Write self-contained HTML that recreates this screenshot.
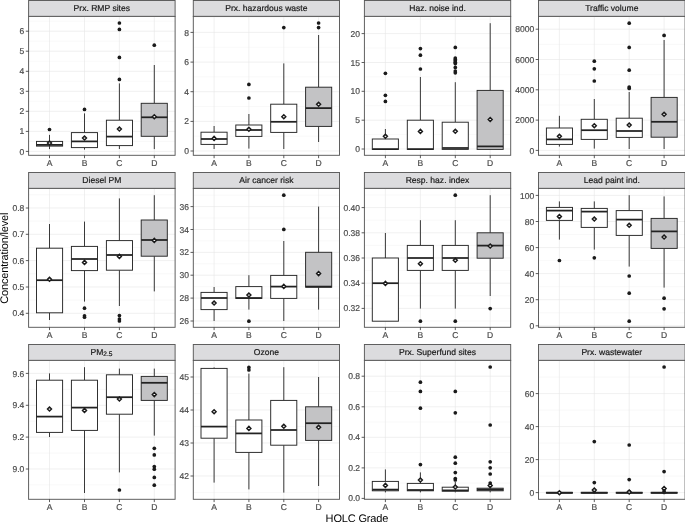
<!DOCTYPE html>
<html><head><meta charset="utf-8"><title>HOLC Grade boxplots</title>
<style>html,body{margin:0;padding:0;background:#fff}body{width:685px;height:522px;overflow:hidden}svg{display:block;text-rendering:geometricPrecision;will-change:transform;font-family:"Liberation Sans",sans-serif}
.st{font-size:8.55px;fill:#1a1a1a;text-anchor:middle;stroke:#1a1a1a;stroke-width:.2}.yt{font-size:8.55px;fill:#4d4d4d;text-anchor:end;stroke:#4d4d4d;stroke-width:.2}.xt{font-size:8.55px;fill:#4d4d4d;text-anchor:middle;stroke:#4d4d4d;stroke-width:.2}.at{font-size:11px;fill:#000;text-anchor:middle;letter-spacing:-.16px}
.gM{stroke:#e6e6e6;stroke-width:.6}.gm{stroke:#efefef;stroke-width:.4}.bx{stroke:#262626;stroke-width:.95}.md{stroke:#222;stroke-width:1.75}.wh{stroke:#2e2e2e;stroke-width:.95}.tk{stroke:#333;stroke-width:.8}.ol{fill:#1a1a1a}.mn{fill:#fff;stroke:#1a1a1a;stroke-width:1.45}.pb{fill:none;stroke:#585858;stroke-width:.95}
</style></head><body>
<svg width="685" height="522" viewBox="0 0 685 522">
<rect width="685" height="522" fill="#fff"/>
<g>
<rect x="28.6" y="0.5" width="146.5" height="15.9" fill="#dcdcde" stroke="#585858" stroke-width=".95"/>
<text class="st" x="101.8" y="11.4">Prx. RMP sites</text>
<rect x="28.6" y="16.4" width="146.5" height="138.9" fill="#fff"/>
<line class="gm" x1="28.6" x2="175.1" y1="141.4" y2="141.4"/>
<line class="gm" x1="28.6" x2="175.1" y1="121.4" y2="121.4"/>
<line class="gm" x1="28.6" x2="175.1" y1="101.3" y2="101.3"/>
<line class="gm" x1="28.6" x2="175.1" y1="81.3" y2="81.3"/>
<line class="gm" x1="28.6" x2="175.1" y1="61.3" y2="61.3"/>
<line class="gm" x1="28.6" x2="175.1" y1="41.2" y2="41.2"/>
<line class="gm" x1="28.6" x2="175.1" y1="21.2" y2="21.2"/>
<line class="gM" x1="28.6" x2="175.1" y1="151.4" y2="151.4"/>
<line class="gM" x1="28.6" x2="175.1" y1="131.4" y2="131.4"/>
<line class="gM" x1="28.6" x2="175.1" y1="111.3" y2="111.3"/>
<line class="gM" x1="28.6" x2="175.1" y1="91.3" y2="91.3"/>
<line class="gM" x1="28.6" x2="175.1" y1="71.3" y2="71.3"/>
<line class="gM" x1="28.6" x2="175.1" y1="51.2" y2="51.2"/>
<line class="gM" x1="28.6" x2="175.1" y1="31.2" y2="31.2"/>
<line class="gM" x1="49.5" x2="49.5" y1="16.4" y2="155.3"/>
<line class="gM" x1="84.5" x2="84.5" y1="16.4" y2="155.3"/>
<line class="gM" x1="119.4" x2="119.4" y1="16.4" y2="155.3"/>
<line class="gM" x1="154.3" x2="154.3" y1="16.4" y2="155.3"/>
<circle class="ol" cx="49.5" cy="129.5" r="1.85"/>
<line class="wh" x1="49.5" x2="49.5" y1="134.9" y2="141.4"/>
<line class="wh" x1="49.5" x2="49.5" y1="146.1" y2="149.1"/>
<rect class="bx" x="36.5" y="141.4" width="26.1" height="4.7" fill="#fff"/>
<line class="md" x1="36.5" x2="62.6" y1="144.9" y2="144.9"/>
<path class="mn" d="M47.5 143.0L49.5 141.0L51.5 143.0L49.5 145.0Z"/>
<circle class="ol" cx="84.5" cy="109.4" r="1.85"/>
<line class="wh" x1="84.5" x2="84.5" y1="113.4" y2="132.6"/>
<line class="wh" x1="84.5" x2="84.5" y1="147.6" y2="149.6"/>
<rect class="bx" x="71.4" y="132.6" width="26.1" height="15.0" fill="#fff"/>
<line class="md" x1="71.4" x2="97.5" y1="141.4" y2="141.4"/>
<path class="mn" d="M82.5 138.0L84.5 136.0L86.5 138.0L84.5 140.0Z"/>
<circle class="ol" cx="119.4" cy="23.0" r="1.85"/>
<circle class="ol" cx="119.4" cy="29.4" r="1.85"/>
<circle class="ol" cx="119.4" cy="57.4" r="1.85"/>
<circle class="ol" cx="119.4" cy="79.4" r="1.85"/>
<line class="wh" x1="119.4" x2="119.4" y1="83.4" y2="120.2"/>
<line class="wh" x1="119.4" x2="119.4" y1="145.6" y2="149.0"/>
<rect class="bx" x="106.4" y="120.2" width="26.1" height="25.4" fill="#fff"/>
<line class="md" x1="106.4" x2="132.5" y1="136.6" y2="136.6"/>
<path class="mn" d="M117.4 129.0L119.4 127.0L121.4 129.0L119.4 131.0Z"/>
<circle class="ol" cx="154.3" cy="45.2" r="1.85"/>
<line class="wh" x1="154.3" x2="154.3" y1="65.0" y2="103.3"/>
<line class="wh" x1="154.3" x2="154.3" y1="136.3" y2="149.1"/>
<rect class="bx" x="141.2" y="103.3" width="26.1" height="33.0" fill="#c3c3c5"/>
<line class="md" x1="141.2" x2="167.4" y1="117.3" y2="117.3"/>
<path class="mn" d="M152.3 116.8L154.3 114.8L156.3 116.8L154.3 118.8Z"/>
<rect class="pb" x="28.6" y="16.4" width="146.5" height="138.9"/>
<line class="tk" x1="25.8" x2="28.6" y1="151.4" y2="151.4"/>
<text class="yt" x="24.3" y="154.5">0</text>
<line class="tk" x1="25.8" x2="28.6" y1="131.4" y2="131.4"/>
<text class="yt" x="24.3" y="134.4">1</text>
<line class="tk" x1="25.8" x2="28.6" y1="111.3" y2="111.3"/>
<text class="yt" x="24.3" y="114.4">2</text>
<line class="tk" x1="25.8" x2="28.6" y1="91.3" y2="91.3"/>
<text class="yt" x="24.3" y="94.4">3</text>
<line class="tk" x1="25.8" x2="28.6" y1="71.3" y2="71.3"/>
<text class="yt" x="24.3" y="74.3">4</text>
<line class="tk" x1="25.8" x2="28.6" y1="51.2" y2="51.2"/>
<text class="yt" x="24.3" y="54.3">5</text>
<line class="tk" x1="25.8" x2="28.6" y1="31.2" y2="31.2"/>
<text class="yt" x="24.3" y="34.3">6</text>
<line class="tk" x1="49.5" x2="49.5" y1="155.3" y2="158.2"/>
<text class="xt" x="49.5" y="165.8">A</text>
<line class="tk" x1="84.5" x2="84.5" y1="155.3" y2="158.2"/>
<text class="xt" x="84.5" y="165.8">B</text>
<line class="tk" x1="119.4" x2="119.4" y1="155.3" y2="158.2"/>
<text class="xt" x="119.4" y="165.8">C</text>
<line class="tk" x1="154.3" x2="154.3" y1="155.3" y2="158.2"/>
<text class="xt" x="154.3" y="165.8">D</text>
</g>
<g>
<rect x="193.3" y="0.5" width="146.2" height="15.9" fill="#dcdcde" stroke="#585858" stroke-width=".95"/>
<text class="st" x="266.4" y="11.4">Prx. hazardous waste</text>
<rect x="193.3" y="16.4" width="146.2" height="138.9" fill="#fff"/>
<line class="gm" x1="193.3" x2="339.5" y1="136.2" y2="136.2"/>
<line class="gm" x1="193.3" x2="339.5" y1="106.5" y2="106.5"/>
<line class="gm" x1="193.3" x2="339.5" y1="76.9" y2="76.9"/>
<line class="gm" x1="193.3" x2="339.5" y1="47.3" y2="47.3"/>
<line class="gm" x1="193.3" x2="339.5" y1="17.6" y2="17.6"/>
<line class="gM" x1="193.3" x2="339.5" y1="151.0" y2="151.0"/>
<line class="gM" x1="193.3" x2="339.5" y1="121.4" y2="121.4"/>
<line class="gM" x1="193.3" x2="339.5" y1="91.7" y2="91.7"/>
<line class="gM" x1="193.3" x2="339.5" y1="62.1" y2="62.1"/>
<line class="gM" x1="193.3" x2="339.5" y1="32.4" y2="32.4"/>
<line class="gM" x1="214.1" x2="214.1" y1="16.4" y2="155.3"/>
<line class="gM" x1="248.9" x2="248.9" y1="16.4" y2="155.3"/>
<line class="gM" x1="283.8" x2="283.8" y1="16.4" y2="155.3"/>
<line class="gM" x1="318.6" x2="318.6" y1="16.4" y2="155.3"/>
<line class="wh" x1="214.1" x2="214.1" y1="126.0" y2="132.2"/>
<line class="wh" x1="214.1" x2="214.1" y1="144.4" y2="149.0"/>
<rect class="bx" x="201.0" y="132.2" width="26.1" height="12.2" fill="#fff"/>
<line class="md" x1="201.0" x2="227.2" y1="139.0" y2="139.0"/>
<path class="mn" d="M212.1 138.4L214.1 136.4L216.1 138.4L214.1 140.4Z"/>
<circle class="ol" cx="248.9" cy="84.4" r="1.85"/>
<circle class="ol" cx="248.9" cy="98.0" r="1.85"/>
<line class="wh" x1="248.9" x2="248.9" y1="114.0" y2="125.0"/>
<line class="wh" x1="248.9" x2="248.9" y1="136.4" y2="148.6"/>
<rect class="bx" x="235.8" y="125.0" width="26.1" height="11.4" fill="#fff"/>
<line class="md" x1="235.8" x2="261.9" y1="130.0" y2="130.0"/>
<path class="mn" d="M246.9 129.2L248.9 127.2L250.9 129.2L248.9 131.2Z"/>
<circle class="ol" cx="283.8" cy="27.6" r="1.85"/>
<line class="wh" x1="283.8" x2="283.8" y1="63.4" y2="104.2"/>
<line class="wh" x1="283.8" x2="283.8" y1="132.4" y2="149.0"/>
<rect class="bx" x="270.7" y="104.2" width="26.1" height="28.2" fill="#fff"/>
<line class="md" x1="270.7" x2="296.8" y1="121.8" y2="121.8"/>
<path class="mn" d="M281.8 116.7L283.8 114.7L285.8 116.7L283.8 118.7Z"/>
<circle class="ol" cx="318.6" cy="23.0" r="1.85"/>
<circle class="ol" cx="318.6" cy="27.6" r="1.85"/>
<line class="wh" x1="318.6" x2="318.6" y1="35.0" y2="87.2"/>
<line class="wh" x1="318.6" x2="318.6" y1="126.4" y2="142.0"/>
<rect class="bx" x="305.6" y="87.2" width="26.1" height="39.2" fill="#c3c3c5"/>
<line class="md" x1="305.6" x2="331.7" y1="108.1" y2="108.1"/>
<path class="mn" d="M316.6 104.2L318.6 102.2L320.6 104.2L318.6 106.2Z"/>
<rect class="pb" x="193.3" y="16.4" width="146.2" height="138.9"/>
<line class="tk" x1="190.5" x2="193.3" y1="151.0" y2="151.0"/>
<text class="yt" x="189.0" y="154.1">0</text>
<line class="tk" x1="190.5" x2="193.3" y1="121.4" y2="121.4"/>
<text class="yt" x="189.0" y="124.4">2</text>
<line class="tk" x1="190.5" x2="193.3" y1="91.7" y2="91.7"/>
<text class="yt" x="189.0" y="94.8">4</text>
<line class="tk" x1="190.5" x2="193.3" y1="62.1" y2="62.1"/>
<text class="yt" x="189.0" y="65.1">6</text>
<line class="tk" x1="190.5" x2="193.3" y1="32.4" y2="32.4"/>
<text class="yt" x="189.0" y="35.5">8</text>
<line class="tk" x1="214.1" x2="214.1" y1="155.3" y2="158.2"/>
<text class="xt" x="214.1" y="165.8">A</text>
<line class="tk" x1="248.9" x2="248.9" y1="155.3" y2="158.2"/>
<text class="xt" x="248.9" y="165.8">B</text>
<line class="tk" x1="283.8" x2="283.8" y1="155.3" y2="158.2"/>
<text class="xt" x="283.8" y="165.8">C</text>
<line class="tk" x1="318.6" x2="318.6" y1="155.3" y2="158.2"/>
<text class="xt" x="318.6" y="165.8">D</text>
</g>
<g>
<rect x="364.4" y="0.5" width="146.3" height="15.9" fill="#dcdcde" stroke="#585858" stroke-width=".95"/>
<text class="st" x="437.5" y="11.4">Haz. noise ind.</text>
<rect x="364.4" y="16.4" width="146.3" height="138.9" fill="#fff"/>
<line class="gm" x1="364.4" x2="510.7" y1="134.6" y2="134.6"/>
<line class="gm" x1="364.4" x2="510.7" y1="105.7" y2="105.7"/>
<line class="gm" x1="364.4" x2="510.7" y1="76.9" y2="76.9"/>
<line class="gm" x1="364.4" x2="510.7" y1="48.0" y2="48.0"/>
<line class="gm" x1="364.4" x2="510.7" y1="19.2" y2="19.2"/>
<line class="gM" x1="364.4" x2="510.7" y1="149.0" y2="149.0"/>
<line class="gM" x1="364.4" x2="510.7" y1="120.2" y2="120.2"/>
<line class="gM" x1="364.4" x2="510.7" y1="91.3" y2="91.3"/>
<line class="gM" x1="364.4" x2="510.7" y1="62.5" y2="62.5"/>
<line class="gM" x1="364.4" x2="510.7" y1="33.6" y2="33.6"/>
<line class="gM" x1="385.4" x2="385.4" y1="16.4" y2="155.3"/>
<line class="gM" x1="420.4" x2="420.4" y1="16.4" y2="155.3"/>
<line class="gM" x1="455.3" x2="455.3" y1="16.4" y2="155.3"/>
<line class="gM" x1="490.2" x2="490.2" y1="16.4" y2="155.3"/>
<circle class="ol" cx="385.4" cy="73.3" r="1.85"/>
<circle class="ol" cx="385.4" cy="95.3" r="1.85"/>
<circle class="ol" cx="385.4" cy="101.4" r="1.85"/>
<line class="wh" x1="385.4" x2="385.4" y1="129.0" y2="139.0"/>
<rect class="bx" x="372.3" y="139.0" width="26.1" height="10.4" fill="#fff"/>
<line class="md" x1="372.3" x2="398.4" y1="149.1" y2="149.1"/>
<path class="mn" d="M383.4 136.2L385.4 134.2L387.4 136.2L385.4 138.2Z"/>
<circle class="ol" cx="420.4" cy="48.6" r="1.85"/>
<circle class="ol" cx="420.4" cy="55.2" r="1.85"/>
<circle class="ol" cx="420.4" cy="69.0" r="1.85"/>
<line class="wh" x1="420.4" x2="420.4" y1="77.0" y2="120.2"/>
<rect class="bx" x="407.3" y="120.2" width="26.1" height="29.2" fill="#fff"/>
<line class="md" x1="407.3" x2="433.4" y1="149.1" y2="149.1"/>
<path class="mn" d="M418.4 131.4L420.4 129.4L422.4 131.4L420.4 133.4Z"/>
<circle class="ol" cx="455.3" cy="47.4" r="1.85"/>
<circle class="ol" cx="455.3" cy="58.0" r="1.85"/>
<circle class="ol" cx="455.3" cy="59.4" r="1.85"/>
<circle class="ol" cx="455.3" cy="60.8" r="1.85"/>
<circle class="ol" cx="455.3" cy="62.2" r="1.85"/>
<circle class="ol" cx="455.3" cy="63.6" r="1.85"/>
<circle class="ol" cx="455.3" cy="67.4" r="1.85"/>
<circle class="ol" cx="455.3" cy="71.0" r="1.85"/>
<circle class="ol" cx="455.3" cy="72.8" r="1.85"/>
<line class="wh" x1="455.3" x2="455.3" y1="82.2" y2="122.2"/>
<rect class="bx" x="442.2" y="122.2" width="26.1" height="27.2" fill="#fff"/>
<line class="md" x1="442.2" x2="468.4" y1="148.0" y2="148.0"/>
<path class="mn" d="M453.3 131.2L455.3 129.2L457.3 131.2L455.3 133.2Z"/>
<line class="wh" x1="490.2" x2="490.2" y1="23.2" y2="90.4"/>
<rect class="bx" x="477.1" y="90.4" width="26.1" height="59.0" fill="#c3c3c5"/>
<line class="md" x1="477.1" x2="503.2" y1="146.4" y2="146.4"/>
<path class="mn" d="M488.2 119.5L490.2 117.5L492.2 119.5L490.2 121.5Z"/>
<rect class="pb" x="364.4" y="16.4" width="146.3" height="138.9"/>
<line class="tk" x1="361.6" x2="364.4" y1="149.0" y2="149.0"/>
<text class="yt" x="360.1" y="152.1">0</text>
<line class="tk" x1="361.6" x2="364.4" y1="120.2" y2="120.2"/>
<text class="yt" x="360.1" y="123.2">5</text>
<line class="tk" x1="361.6" x2="364.4" y1="91.3" y2="91.3"/>
<text class="yt" x="360.1" y="94.4">10</text>
<line class="tk" x1="361.6" x2="364.4" y1="62.5" y2="62.5"/>
<text class="yt" x="360.1" y="65.5">15</text>
<line class="tk" x1="361.6" x2="364.4" y1="33.6" y2="33.6"/>
<text class="yt" x="360.1" y="36.7">20</text>
<line class="tk" x1="385.4" x2="385.4" y1="155.3" y2="158.2"/>
<text class="xt" x="385.4" y="165.8">A</text>
<line class="tk" x1="420.4" x2="420.4" y1="155.3" y2="158.2"/>
<text class="xt" x="420.4" y="165.8">B</text>
<line class="tk" x1="455.3" x2="455.3" y1="155.3" y2="158.2"/>
<text class="xt" x="455.3" y="165.8">C</text>
<line class="tk" x1="490.2" x2="490.2" y1="155.3" y2="158.2"/>
<text class="xt" x="490.2" y="165.8">D</text>
</g>
<g>
<rect x="538.5" y="0.5" width="146.6" height="15.9" fill="#dcdcde" stroke="#585858" stroke-width=".95"/>
<text class="st" x="611.8" y="11.4">Traffic volume</text>
<rect x="538.5" y="16.4" width="146.6" height="138.9" fill="#fff"/>
<line class="gm" x1="538.5" x2="685.1" y1="135.2" y2="135.2"/>
<line class="gm" x1="538.5" x2="685.1" y1="105.0" y2="105.0"/>
<line class="gm" x1="538.5" x2="685.1" y1="74.7" y2="74.7"/>
<line class="gm" x1="538.5" x2="685.1" y1="44.4" y2="44.4"/>
<line class="gM" x1="538.5" x2="685.1" y1="150.4" y2="150.4"/>
<line class="gM" x1="538.5" x2="685.1" y1="120.1" y2="120.1"/>
<line class="gM" x1="538.5" x2="685.1" y1="89.8" y2="89.8"/>
<line class="gM" x1="538.5" x2="685.1" y1="59.5" y2="59.5"/>
<line class="gM" x1="538.5" x2="685.1" y1="29.2" y2="29.2"/>
<line class="gM" x1="559.4" x2="559.4" y1="16.4" y2="155.3"/>
<line class="gM" x1="594.3" x2="594.3" y1="16.4" y2="155.3"/>
<line class="gM" x1="629.2" x2="629.2" y1="16.4" y2="155.3"/>
<line class="gM" x1="664.1" x2="664.1" y1="16.4" y2="155.3"/>
<line class="wh" x1="559.4" x2="559.4" y1="115.8" y2="128.0"/>
<line class="wh" x1="559.4" x2="559.4" y1="144.4" y2="146.6"/>
<rect class="bx" x="546.4" y="128.0" width="26.1" height="16.4" fill="#fff"/>
<line class="md" x1="546.4" x2="572.4" y1="139.4" y2="139.4"/>
<path class="mn" d="M557.4 136.2L559.4 134.2L561.4 136.2L559.4 138.2Z"/>
<circle class="ol" cx="594.3" cy="61.2" r="1.85"/>
<circle class="ol" cx="594.3" cy="68.8" r="1.85"/>
<circle class="ol" cx="594.3" cy="81.0" r="1.85"/>
<line class="wh" x1="594.3" x2="594.3" y1="99.0" y2="119.3"/>
<line class="wh" x1="594.3" x2="594.3" y1="139.4" y2="148.6"/>
<rect class="bx" x="581.2" y="119.3" width="26.1" height="20.1" fill="#fff"/>
<line class="md" x1="581.2" x2="607.3" y1="130.2" y2="130.2"/>
<path class="mn" d="M592.3 125.8L594.3 123.8L596.3 125.8L594.3 127.8Z"/>
<circle class="ol" cx="629.2" cy="23.2" r="1.85"/>
<circle class="ol" cx="629.2" cy="47.4" r="1.85"/>
<circle class="ol" cx="629.2" cy="70.2" r="1.85"/>
<circle class="ol" cx="629.2" cy="87.0" r="1.85"/>
<circle class="ol" cx="629.2" cy="88.4" r="1.85"/>
<line class="wh" x1="629.2" x2="629.2" y1="92.0" y2="118.2"/>
<line class="wh" x1="629.2" x2="629.2" y1="137.4" y2="149.0"/>
<rect class="bx" x="616.2" y="118.2" width="26.1" height="19.2" fill="#fff"/>
<line class="md" x1="616.2" x2="642.2" y1="131.0" y2="131.0"/>
<path class="mn" d="M627.2 125.0L629.2 123.0L631.2 125.0L629.2 127.0Z"/>
<circle class="ol" cx="664.1" cy="35.4" r="1.85"/>
<line class="wh" x1="664.1" x2="664.1" y1="40.0" y2="97.4"/>
<line class="wh" x1="664.1" x2="664.1" y1="137.2" y2="149.0"/>
<rect class="bx" x="651.1" y="97.4" width="26.1" height="39.8" fill="#c3c3c5"/>
<line class="md" x1="651.1" x2="677.2" y1="121.8" y2="121.8"/>
<path class="mn" d="M662.1 114.3L664.1 112.3L666.1 114.3L664.1 116.3Z"/>
<rect class="pb" x="538.5" y="16.4" width="146.6" height="138.9"/>
<line class="tk" x1="535.7" x2="538.5" y1="150.4" y2="150.4"/>
<text class="yt" x="534.2" y="153.5">0</text>
<line class="tk" x1="535.7" x2="538.5" y1="120.1" y2="120.1"/>
<text class="yt" x="534.2" y="123.2">2000</text>
<line class="tk" x1="535.7" x2="538.5" y1="89.8" y2="89.8"/>
<text class="yt" x="534.2" y="92.9">4000</text>
<line class="tk" x1="535.7" x2="538.5" y1="59.5" y2="59.5"/>
<text class="yt" x="534.2" y="62.5">6000</text>
<line class="tk" x1="535.7" x2="538.5" y1="29.2" y2="29.2"/>
<text class="yt" x="534.2" y="32.2">8000</text>
<line class="tk" x1="559.4" x2="559.4" y1="155.3" y2="158.2"/>
<text class="xt" x="559.4" y="165.8">A</text>
<line class="tk" x1="594.3" x2="594.3" y1="155.3" y2="158.2"/>
<text class="xt" x="594.3" y="165.8">B</text>
<line class="tk" x1="629.2" x2="629.2" y1="155.3" y2="158.2"/>
<text class="xt" x="629.2" y="165.8">C</text>
<line class="tk" x1="664.1" x2="664.1" y1="155.3" y2="158.2"/>
<text class="xt" x="664.1" y="165.8">D</text>
</g>
<g>
<rect x="28.6" y="172.5" width="146.5" height="15.9" fill="#dcdcde" stroke="#585858" stroke-width=".95"/>
<text class="st" x="101.8" y="182.8">Diesel PM</text>
<rect x="28.6" y="188.4" width="146.5" height="138.9" fill="#fff"/>
<line class="gm" x1="28.6" x2="175.1" y1="300.1" y2="300.1"/>
<line class="gm" x1="28.6" x2="175.1" y1="273.8" y2="273.8"/>
<line class="gm" x1="28.6" x2="175.1" y1="247.5" y2="247.5"/>
<line class="gm" x1="28.6" x2="175.1" y1="221.1" y2="221.1"/>
<line class="gm" x1="28.6" x2="175.1" y1="194.8" y2="194.8"/>
<line class="gM" x1="28.6" x2="175.1" y1="313.3" y2="313.3"/>
<line class="gM" x1="28.6" x2="175.1" y1="287.0" y2="287.0"/>
<line class="gM" x1="28.6" x2="175.1" y1="260.6" y2="260.6"/>
<line class="gM" x1="28.6" x2="175.1" y1="234.3" y2="234.3"/>
<line class="gM" x1="28.6" x2="175.1" y1="208.0" y2="208.0"/>
<line class="gM" x1="49.5" x2="49.5" y1="188.4" y2="327.3"/>
<line class="gM" x1="84.5" x2="84.5" y1="188.4" y2="327.3"/>
<line class="gM" x1="119.4" x2="119.4" y1="188.4" y2="327.3"/>
<line class="gM" x1="154.3" x2="154.3" y1="188.4" y2="327.3"/>
<line class="wh" x1="49.5" x2="49.5" y1="224.0" y2="248.2"/>
<line class="wh" x1="49.5" x2="49.5" y1="312.8" y2="320.0"/>
<rect class="bx" x="36.5" y="248.2" width="26.1" height="64.6" fill="#fff"/>
<line class="md" x1="36.5" x2="62.6" y1="280.2" y2="280.2"/>
<path class="mn" d="M47.5 279.2L49.5 277.2L51.5 279.2L49.5 281.2Z"/>
<circle class="ol" cx="84.5" cy="308.2" r="1.85"/>
<circle class="ol" cx="84.5" cy="315.8" r="1.85"/>
<circle class="ol" cx="84.5" cy="317.2" r="1.85"/>
<line class="wh" x1="84.5" x2="84.5" y1="221.6" y2="246.4"/>
<line class="wh" x1="84.5" x2="84.5" y1="270.6" y2="301.6"/>
<rect class="bx" x="71.4" y="246.4" width="26.1" height="24.2" fill="#fff"/>
<line class="md" x1="71.4" x2="97.5" y1="259.0" y2="259.0"/>
<path class="mn" d="M82.5 262.4L84.5 260.4L86.5 262.4L84.5 264.4Z"/>
<circle class="ol" cx="119.4" cy="315.6" r="1.85"/>
<circle class="ol" cx="119.4" cy="319.0" r="1.85"/>
<circle class="ol" cx="119.4" cy="321.0" r="1.85"/>
<line class="wh" x1="119.4" x2="119.4" y1="198.4" y2="240.6"/>
<line class="wh" x1="119.4" x2="119.4" y1="270.2" y2="306.0"/>
<rect class="bx" x="106.4" y="240.6" width="26.1" height="29.6" fill="#fff"/>
<line class="md" x1="106.4" x2="132.5" y1="255.0" y2="255.0"/>
<path class="mn" d="M117.4 256.4L119.4 254.4L121.4 256.4L119.4 258.4Z"/>
<line class="wh" x1="154.3" x2="154.3" y1="195.2" y2="220.0"/>
<line class="wh" x1="154.3" x2="154.3" y1="256.2" y2="291.4"/>
<rect class="bx" x="141.2" y="220.0" width="26.1" height="36.2" fill="#c3c3c5"/>
<line class="md" x1="141.2" x2="167.4" y1="240.0" y2="240.0"/>
<path class="mn" d="M152.3 240.4L154.3 238.4L156.3 240.4L154.3 242.4Z"/>
<rect class="pb" x="28.6" y="188.4" width="146.5" height="138.9"/>
<line class="tk" x1="25.8" x2="28.6" y1="313.3" y2="313.3"/>
<text class="yt" x="24.3" y="316.4">0.4</text>
<line class="tk" x1="25.8" x2="28.6" y1="287.0" y2="287.0"/>
<text class="yt" x="24.3" y="290.0">0.5</text>
<line class="tk" x1="25.8" x2="28.6" y1="260.6" y2="260.6"/>
<text class="yt" x="24.3" y="263.7">0.6</text>
<line class="tk" x1="25.8" x2="28.6" y1="234.3" y2="234.3"/>
<text class="yt" x="24.3" y="237.4">0.7</text>
<line class="tk" x1="25.8" x2="28.6" y1="208.0" y2="208.0"/>
<text class="yt" x="24.3" y="211.0">0.8</text>
<line class="tk" x1="49.5" x2="49.5" y1="327.3" y2="330.1"/>
<text class="xt" x="49.5" y="337.8">A</text>
<line class="tk" x1="84.5" x2="84.5" y1="327.3" y2="330.1"/>
<text class="xt" x="84.5" y="337.8">B</text>
<line class="tk" x1="119.4" x2="119.4" y1="327.3" y2="330.1"/>
<text class="xt" x="119.4" y="337.8">C</text>
<line class="tk" x1="154.3" x2="154.3" y1="327.3" y2="330.1"/>
<text class="xt" x="154.3" y="337.8">D</text>
</g>
<g>
<rect x="193.3" y="172.5" width="146.2" height="15.9" fill="#dcdcde" stroke="#585858" stroke-width=".95"/>
<text class="st" x="266.4" y="182.8">Air cancer risk</text>
<rect x="193.3" y="188.4" width="146.2" height="138.9" fill="#fff"/>
<line class="gm" x1="193.3" x2="339.5" y1="309.6" y2="309.6"/>
<line class="gm" x1="193.3" x2="339.5" y1="286.7" y2="286.7"/>
<line class="gm" x1="193.3" x2="339.5" y1="263.8" y2="263.8"/>
<line class="gm" x1="193.3" x2="339.5" y1="240.9" y2="240.9"/>
<line class="gm" x1="193.3" x2="339.5" y1="218.0" y2="218.0"/>
<line class="gm" x1="193.3" x2="339.5" y1="195.2" y2="195.2"/>
<line class="gM" x1="193.3" x2="339.5" y1="321.0" y2="321.0"/>
<line class="gM" x1="193.3" x2="339.5" y1="298.1" y2="298.1"/>
<line class="gM" x1="193.3" x2="339.5" y1="275.2" y2="275.2"/>
<line class="gM" x1="193.3" x2="339.5" y1="252.4" y2="252.4"/>
<line class="gM" x1="193.3" x2="339.5" y1="229.5" y2="229.5"/>
<line class="gM" x1="193.3" x2="339.5" y1="206.6" y2="206.6"/>
<line class="gM" x1="214.1" x2="214.1" y1="188.4" y2="327.3"/>
<line class="gM" x1="248.9" x2="248.9" y1="188.4" y2="327.3"/>
<line class="gM" x1="283.8" x2="283.8" y1="188.4" y2="327.3"/>
<line class="gM" x1="318.6" x2="318.6" y1="188.4" y2="327.3"/>
<line class="wh" x1="214.1" x2="214.1" y1="287.0" y2="292.4"/>
<line class="wh" x1="214.1" x2="214.1" y1="309.6" y2="321.0"/>
<rect class="bx" x="201.0" y="292.4" width="26.1" height="17.2" fill="#fff"/>
<line class="md" x1="201.0" x2="227.2" y1="298.0" y2="298.0"/>
<path class="mn" d="M212.1 303.0L214.1 301.0L216.1 303.0L214.1 305.0Z"/>
<circle class="ol" cx="248.9" cy="321.2" r="1.85"/>
<line class="wh" x1="248.9" x2="248.9" y1="275.2" y2="286.6"/>
<line class="wh" x1="248.9" x2="248.9" y1="298.4" y2="309.6"/>
<rect class="bx" x="235.8" y="286.6" width="26.1" height="11.8" fill="#fff"/>
<line class="md" x1="235.8" x2="261.9" y1="298.0" y2="298.0"/>
<path class="mn" d="M246.9 295.0L248.9 293.0L250.9 295.0L248.9 297.0Z"/>
<circle class="ol" cx="283.8" cy="195.2" r="1.85"/>
<circle class="ol" cx="283.8" cy="229.4" r="1.85"/>
<line class="wh" x1="283.8" x2="283.8" y1="241.0" y2="275.4"/>
<line class="wh" x1="283.8" x2="283.8" y1="298.4" y2="321.0"/>
<rect class="bx" x="270.7" y="275.4" width="26.1" height="23.0" fill="#fff"/>
<line class="md" x1="270.7" x2="296.8" y1="286.6" y2="286.6"/>
<path class="mn" d="M281.8 286.4L283.8 284.4L285.8 286.4L283.8 288.4Z"/>
<line class="wh" x1="318.6" x2="318.6" y1="206.6" y2="252.3"/>
<line class="wh" x1="318.6" x2="318.6" y1="287.2" y2="309.6"/>
<rect class="bx" x="305.6" y="252.3" width="26.1" height="34.9" fill="#c3c3c5"/>
<line class="md" x1="305.6" x2="331.7" y1="286.6" y2="286.6"/>
<path class="mn" d="M316.6 273.6L318.6 271.6L320.6 273.6L318.6 275.6Z"/>
<rect class="pb" x="193.3" y="188.4" width="146.2" height="138.9"/>
<line class="tk" x1="190.5" x2="193.3" y1="321.0" y2="321.0"/>
<text class="yt" x="189.0" y="324.1">26</text>
<line class="tk" x1="190.5" x2="193.3" y1="298.1" y2="298.1"/>
<text class="yt" x="189.0" y="301.2">28</text>
<line class="tk" x1="190.5" x2="193.3" y1="275.2" y2="275.2"/>
<text class="yt" x="189.0" y="278.3">30</text>
<line class="tk" x1="190.5" x2="193.3" y1="252.4" y2="252.4"/>
<text class="yt" x="189.0" y="255.4">32</text>
<line class="tk" x1="190.5" x2="193.3" y1="229.5" y2="229.5"/>
<text class="yt" x="189.0" y="232.5">34</text>
<line class="tk" x1="190.5" x2="193.3" y1="206.6" y2="206.6"/>
<text class="yt" x="189.0" y="209.7">36</text>
<line class="tk" x1="214.1" x2="214.1" y1="327.3" y2="330.1"/>
<text class="xt" x="214.1" y="337.8">A</text>
<line class="tk" x1="248.9" x2="248.9" y1="327.3" y2="330.1"/>
<text class="xt" x="248.9" y="337.8">B</text>
<line class="tk" x1="283.8" x2="283.8" y1="327.3" y2="330.1"/>
<text class="xt" x="283.8" y="337.8">C</text>
<line class="tk" x1="318.6" x2="318.6" y1="327.3" y2="330.1"/>
<text class="xt" x="318.6" y="337.8">D</text>
</g>
<g>
<rect x="364.4" y="172.5" width="146.3" height="15.9" fill="#dcdcde" stroke="#585858" stroke-width=".95"/>
<text class="st" x="437.5" y="182.8">Resp. haz. index</text>
<rect x="364.4" y="188.4" width="146.3" height="138.9" fill="#fff"/>
<line class="gm" x1="364.4" x2="510.7" y1="321.0" y2="321.0"/>
<line class="gm" x1="364.4" x2="510.7" y1="295.8" y2="295.8"/>
<line class="gm" x1="364.4" x2="510.7" y1="270.6" y2="270.6"/>
<line class="gm" x1="364.4" x2="510.7" y1="245.4" y2="245.4"/>
<line class="gm" x1="364.4" x2="510.7" y1="220.2" y2="220.2"/>
<line class="gm" x1="364.4" x2="510.7" y1="195.0" y2="195.0"/>
<line class="gM" x1="364.4" x2="510.7" y1="308.4" y2="308.4"/>
<line class="gM" x1="364.4" x2="510.7" y1="283.2" y2="283.2"/>
<line class="gM" x1="364.4" x2="510.7" y1="258.0" y2="258.0"/>
<line class="gM" x1="364.4" x2="510.7" y1="232.8" y2="232.8"/>
<line class="gM" x1="364.4" x2="510.7" y1="207.6" y2="207.6"/>
<line class="gM" x1="385.4" x2="385.4" y1="188.4" y2="327.3"/>
<line class="gM" x1="420.4" x2="420.4" y1="188.4" y2="327.3"/>
<line class="gM" x1="455.3" x2="455.3" y1="188.4" y2="327.3"/>
<line class="gM" x1="490.2" x2="490.2" y1="188.4" y2="327.3"/>
<line class="wh" x1="385.4" x2="385.4" y1="233.0" y2="258.0"/>
<rect class="bx" x="372.3" y="258.0" width="26.1" height="63.2" fill="#fff"/>
<line class="md" x1="372.3" x2="398.4" y1="283.2" y2="283.2"/>
<path class="mn" d="M383.4 283.4L385.4 281.4L387.4 283.4L385.4 285.4Z"/>
<circle class="ol" cx="420.4" cy="321.2" r="1.85"/>
<line class="wh" x1="420.4" x2="420.4" y1="220.2" y2="245.4"/>
<line class="wh" x1="420.4" x2="420.4" y1="270.4" y2="308.6"/>
<rect class="bx" x="407.3" y="245.4" width="26.1" height="25.0" fill="#fff"/>
<line class="md" x1="407.3" x2="433.4" y1="258.0" y2="258.0"/>
<path class="mn" d="M418.4 263.8L420.4 261.8L422.4 263.8L420.4 265.8Z"/>
<circle class="ol" cx="455.3" cy="195.2" r="1.85"/>
<circle class="ol" cx="455.3" cy="321.2" r="1.85"/>
<line class="wh" x1="455.3" x2="455.3" y1="220.2" y2="245.4"/>
<line class="wh" x1="455.3" x2="455.3" y1="270.4" y2="308.6"/>
<rect class="bx" x="442.2" y="245.4" width="26.1" height="25.0" fill="#fff"/>
<line class="md" x1="442.2" x2="468.4" y1="258.0" y2="258.0"/>
<path class="mn" d="M453.3 260.2L455.3 258.2L457.3 260.2L455.3 262.2Z"/>
<circle class="ol" cx="490.2" cy="308.6" r="1.85"/>
<line class="wh" x1="490.2" x2="490.2" y1="195.2" y2="232.8"/>
<line class="wh" x1="490.2" x2="490.2" y1="258.2" y2="296.0"/>
<rect class="bx" x="477.1" y="232.8" width="26.1" height="25.4" fill="#c3c3c5"/>
<line class="md" x1="477.1" x2="503.2" y1="245.6" y2="245.6"/>
<path class="mn" d="M488.2 246.0L490.2 244.0L492.2 246.0L490.2 248.0Z"/>
<rect class="pb" x="364.4" y="188.4" width="146.3" height="138.9"/>
<line class="tk" x1="361.6" x2="364.4" y1="308.4" y2="308.4"/>
<text class="yt" x="360.1" y="311.4">0.32</text>
<line class="tk" x1="361.6" x2="364.4" y1="283.2" y2="283.2"/>
<text class="yt" x="360.1" y="286.2">0.34</text>
<line class="tk" x1="361.6" x2="364.4" y1="258.0" y2="258.0"/>
<text class="yt" x="360.1" y="261.1">0.36</text>
<line class="tk" x1="361.6" x2="364.4" y1="232.8" y2="232.8"/>
<text class="yt" x="360.1" y="235.8">0.38</text>
<line class="tk" x1="361.6" x2="364.4" y1="207.6" y2="207.6"/>
<text class="yt" x="360.1" y="210.6">0.40</text>
<line class="tk" x1="385.4" x2="385.4" y1="327.3" y2="330.1"/>
<text class="xt" x="385.4" y="337.8">A</text>
<line class="tk" x1="420.4" x2="420.4" y1="327.3" y2="330.1"/>
<text class="xt" x="420.4" y="337.8">B</text>
<line class="tk" x1="455.3" x2="455.3" y1="327.3" y2="330.1"/>
<text class="xt" x="455.3" y="337.8">C</text>
<line class="tk" x1="490.2" x2="490.2" y1="327.3" y2="330.1"/>
<text class="xt" x="490.2" y="337.8">D</text>
</g>
<g>
<rect x="538.5" y="172.5" width="146.6" height="15.9" fill="#dcdcde" stroke="#585858" stroke-width=".95"/>
<text class="st" x="611.8" y="182.8">Lead paint ind.</text>
<rect x="538.5" y="188.4" width="146.6" height="138.9" fill="#fff"/>
<line class="gm" x1="538.5" x2="685.1" y1="312.8" y2="312.8"/>
<line class="gm" x1="538.5" x2="685.1" y1="286.7" y2="286.7"/>
<line class="gm" x1="538.5" x2="685.1" y1="260.6" y2="260.6"/>
<line class="gm" x1="538.5" x2="685.1" y1="234.5" y2="234.5"/>
<line class="gm" x1="538.5" x2="685.1" y1="208.4" y2="208.4"/>
<line class="gM" x1="538.5" x2="685.1" y1="325.8" y2="325.8"/>
<line class="gM" x1="538.5" x2="685.1" y1="299.7" y2="299.7"/>
<line class="gM" x1="538.5" x2="685.1" y1="273.6" y2="273.6"/>
<line class="gM" x1="538.5" x2="685.1" y1="247.6" y2="247.6"/>
<line class="gM" x1="538.5" x2="685.1" y1="221.5" y2="221.5"/>
<line class="gM" x1="538.5" x2="685.1" y1="195.4" y2="195.4"/>
<line class="gM" x1="559.4" x2="559.4" y1="188.4" y2="327.3"/>
<line class="gM" x1="594.3" x2="594.3" y1="188.4" y2="327.3"/>
<line class="gM" x1="629.2" x2="629.2" y1="188.4" y2="327.3"/>
<line class="gM" x1="664.1" x2="664.1" y1="188.4" y2="327.3"/>
<circle class="ol" cx="559.4" cy="260.5" r="1.85"/>
<line class="wh" x1="559.4" x2="559.4" y1="201.4" y2="207.4"/>
<line class="wh" x1="559.4" x2="559.4" y1="220.4" y2="239.6"/>
<rect class="bx" x="546.4" y="207.4" width="26.1" height="13.0" fill="#fff"/>
<line class="md" x1="546.4" x2="572.4" y1="210.6" y2="210.6"/>
<path class="mn" d="M557.4 216.6L559.4 214.6L561.4 216.6L559.4 218.6Z"/>
<circle class="ol" cx="594.3" cy="257.8" r="1.85"/>
<line class="wh" x1="594.3" x2="594.3" y1="201.4" y2="208.4"/>
<line class="wh" x1="594.3" x2="594.3" y1="227.4" y2="249.6"/>
<rect class="bx" x="581.2" y="208.4" width="26.1" height="19.0" fill="#fff"/>
<line class="md" x1="581.2" x2="607.3" y1="211.6" y2="211.6"/>
<path class="mn" d="M592.3 219.0L594.3 217.0L596.3 219.0L594.3 221.0Z"/>
<circle class="ol" cx="629.2" cy="276.0" r="1.85"/>
<circle class="ol" cx="629.2" cy="293.2" r="1.85"/>
<circle class="ol" cx="629.2" cy="321.2" r="1.85"/>
<line class="wh" x1="629.2" x2="629.2" y1="195.2" y2="210.6"/>
<line class="wh" x1="629.2" x2="629.2" y1="235.4" y2="266.6"/>
<rect class="bx" x="616.2" y="210.6" width="26.1" height="24.8" fill="#fff"/>
<line class="md" x1="616.2" x2="642.2" y1="219.6" y2="219.6"/>
<path class="mn" d="M627.2 225.2L629.2 223.2L631.2 225.2L629.2 227.2Z"/>
<circle class="ol" cx="664.1" cy="298.2" r="1.85"/>
<circle class="ol" cx="664.1" cy="308.8" r="1.85"/>
<line class="wh" x1="664.1" x2="664.1" y1="196.4" y2="218.4"/>
<line class="wh" x1="664.1" x2="664.1" y1="248.4" y2="287.6"/>
<rect class="bx" x="651.1" y="218.4" width="26.1" height="30.0" fill="#c3c3c5"/>
<line class="md" x1="651.1" x2="677.2" y1="231.4" y2="231.4"/>
<path class="mn" d="M662.1 237.0L664.1 235.0L666.1 237.0L664.1 239.0Z"/>
<rect class="pb" x="538.5" y="188.4" width="146.6" height="138.9"/>
<line class="tk" x1="535.7" x2="538.5" y1="325.8" y2="325.8"/>
<text class="yt" x="534.2" y="328.9">0</text>
<line class="tk" x1="535.7" x2="538.5" y1="299.7" y2="299.7"/>
<text class="yt" x="534.2" y="302.8">20</text>
<line class="tk" x1="535.7" x2="538.5" y1="273.6" y2="273.6"/>
<text class="yt" x="534.2" y="276.7">40</text>
<line class="tk" x1="535.7" x2="538.5" y1="247.6" y2="247.6"/>
<text class="yt" x="534.2" y="250.6">60</text>
<line class="tk" x1="535.7" x2="538.5" y1="221.5" y2="221.5"/>
<text class="yt" x="534.2" y="224.5">80</text>
<line class="tk" x1="535.7" x2="538.5" y1="195.4" y2="195.4"/>
<text class="yt" x="534.2" y="198.5">100</text>
<line class="tk" x1="559.4" x2="559.4" y1="327.3" y2="330.1"/>
<text class="xt" x="559.4" y="337.8">A</text>
<line class="tk" x1="594.3" x2="594.3" y1="327.3" y2="330.1"/>
<text class="xt" x="594.3" y="337.8">B</text>
<line class="tk" x1="629.2" x2="629.2" y1="327.3" y2="330.1"/>
<text class="xt" x="629.2" y="337.8">C</text>
<line class="tk" x1="664.1" x2="664.1" y1="327.3" y2="330.1"/>
<text class="xt" x="664.1" y="337.8">D</text>
</g>
<g>
<rect x="28.6" y="344.5" width="146.5" height="15.9" fill="#dcdcde" stroke="#585858" stroke-width=".95"/>
<text class="st" x="101.5" y="354.6">PM<tspan font-size="6.6px" dy="1.5">2.5</tspan></text>
<rect x="28.6" y="360.4" width="146.5" height="138.9" fill="#fff"/>
<line class="gm" x1="28.6" x2="175.1" y1="484.9" y2="484.9"/>
<line class="gm" x1="28.6" x2="175.1" y1="453.1" y2="453.1"/>
<line class="gm" x1="28.6" x2="175.1" y1="421.2" y2="421.2"/>
<line class="gm" x1="28.6" x2="175.1" y1="389.4" y2="389.4"/>
<line class="gM" x1="28.6" x2="175.1" y1="469.0" y2="469.0"/>
<line class="gM" x1="28.6" x2="175.1" y1="437.1" y2="437.1"/>
<line class="gM" x1="28.6" x2="175.1" y1="405.3" y2="405.3"/>
<line class="gM" x1="28.6" x2="175.1" y1="373.4" y2="373.4"/>
<line class="gM" x1="49.5" x2="49.5" y1="360.4" y2="499.3"/>
<line class="gM" x1="84.5" x2="84.5" y1="360.4" y2="499.3"/>
<line class="gM" x1="119.4" x2="119.4" y1="360.4" y2="499.3"/>
<line class="gM" x1="154.3" x2="154.3" y1="360.4" y2="499.3"/>
<line class="wh" x1="49.5" x2="49.5" y1="373.4" y2="380.2"/>
<line class="wh" x1="49.5" x2="49.5" y1="432.4" y2="437.0"/>
<rect class="bx" x="36.5" y="380.2" width="26.1" height="52.2" fill="#fff"/>
<line class="md" x1="36.5" x2="62.6" y1="416.6" y2="416.6"/>
<path class="mn" d="M47.5 409.0L49.5 407.0L51.5 409.0L49.5 411.0Z"/>
<line class="wh" x1="84.5" x2="84.5" y1="367.2" y2="380.2"/>
<line class="wh" x1="84.5" x2="84.5" y1="430.4" y2="493.0"/>
<rect class="bx" x="71.4" y="380.2" width="26.1" height="50.2" fill="#fff"/>
<line class="md" x1="71.4" x2="97.5" y1="407.6" y2="407.6"/>
<path class="mn" d="M82.5 410.4L84.5 408.4L86.5 410.4L84.5 412.4Z"/>
<circle class="ol" cx="119.4" cy="490.0" r="1.85"/>
<line class="wh" x1="119.4" x2="119.4" y1="368.6" y2="374.8"/>
<line class="wh" x1="119.4" x2="119.4" y1="414.2" y2="472.4"/>
<rect class="bx" x="106.4" y="374.8" width="26.1" height="39.4" fill="#fff"/>
<line class="md" x1="106.4" x2="132.5" y1="397.2" y2="397.2"/>
<path class="mn" d="M117.4 399.0L119.4 397.0L121.4 399.0L119.4 401.0Z"/>
<circle class="ol" cx="154.3" cy="448.3" r="1.85"/>
<circle class="ol" cx="154.3" cy="454.9" r="1.85"/>
<circle class="ol" cx="154.3" cy="466.6" r="1.85"/>
<circle class="ol" cx="154.3" cy="469.2" r="1.85"/>
<circle class="ol" cx="154.3" cy="477.4" r="1.85"/>
<circle class="ol" cx="154.3" cy="485.2" r="1.85"/>
<line class="wh" x1="154.3" x2="154.3" y1="368.6" y2="376.4"/>
<line class="wh" x1="154.3" x2="154.3" y1="400.4" y2="435.6"/>
<rect class="bx" x="141.2" y="376.4" width="26.1" height="24.0" fill="#c3c3c5"/>
<line class="md" x1="141.2" x2="167.4" y1="382.8" y2="382.8"/>
<path class="mn" d="M152.3 394.6L154.3 392.6L156.3 394.6L154.3 396.6Z"/>
<rect class="pb" x="28.6" y="360.4" width="146.5" height="138.9"/>
<line class="tk" x1="25.8" x2="28.6" y1="469.0" y2="469.0"/>
<text class="yt" x="24.3" y="472.1">9.0</text>
<line class="tk" x1="25.8" x2="28.6" y1="437.1" y2="437.1"/>
<text class="yt" x="24.3" y="440.2">9.2</text>
<line class="tk" x1="25.8" x2="28.6" y1="405.3" y2="405.3"/>
<text class="yt" x="24.3" y="408.3">9.4</text>
<line class="tk" x1="25.8" x2="28.6" y1="373.4" y2="373.4"/>
<text class="yt" x="24.3" y="376.5">9.6</text>
<line class="tk" x1="49.5" x2="49.5" y1="499.3" y2="502.1"/>
<text class="xt" x="49.5" y="509.7">A</text>
<line class="tk" x1="84.5" x2="84.5" y1="499.3" y2="502.1"/>
<text class="xt" x="84.5" y="509.7">B</text>
<line class="tk" x1="119.4" x2="119.4" y1="499.3" y2="502.1"/>
<text class="xt" x="119.4" y="509.7">C</text>
<line class="tk" x1="154.3" x2="154.3" y1="499.3" y2="502.1"/>
<text class="xt" x="154.3" y="509.7">D</text>
</g>
<g>
<rect x="193.3" y="344.5" width="146.2" height="15.9" fill="#dcdcde" stroke="#585858" stroke-width=".95"/>
<text class="st" x="266.4" y="354.8">Ozone</text>
<rect x="193.3" y="360.4" width="146.2" height="138.9" fill="#fff"/>
<line class="gm" x1="193.3" x2="339.5" y1="492.5" y2="492.5"/>
<line class="gm" x1="193.3" x2="339.5" y1="459.5" y2="459.5"/>
<line class="gm" x1="193.3" x2="339.5" y1="426.5" y2="426.5"/>
<line class="gm" x1="193.3" x2="339.5" y1="393.5" y2="393.5"/>
<line class="gM" x1="193.3" x2="339.5" y1="476.0" y2="476.0"/>
<line class="gM" x1="193.3" x2="339.5" y1="443.0" y2="443.0"/>
<line class="gM" x1="193.3" x2="339.5" y1="410.0" y2="410.0"/>
<line class="gM" x1="193.3" x2="339.5" y1="377.0" y2="377.0"/>
<line class="gM" x1="214.1" x2="214.1" y1="360.4" y2="499.3"/>
<line class="gM" x1="248.9" x2="248.9" y1="360.4" y2="499.3"/>
<line class="gM" x1="283.8" x2="283.8" y1="360.4" y2="499.3"/>
<line class="gM" x1="318.6" x2="318.6" y1="360.4" y2="499.3"/>
<line class="wh" x1="214.1" x2="214.1" y1="367.4" y2="368.4"/>
<line class="wh" x1="214.1" x2="214.1" y1="438.2" y2="482.6"/>
<rect class="bx" x="201.0" y="368.4" width="26.1" height="69.8" fill="#fff"/>
<line class="md" x1="201.0" x2="227.2" y1="426.6" y2="426.6"/>
<path class="mn" d="M212.1 411.8L214.1 409.8L216.1 411.8L214.1 413.8Z"/>
<circle class="ol" cx="248.9" cy="367.4" r="1.85"/>
<circle class="ol" cx="248.9" cy="370.0" r="1.85"/>
<line class="wh" x1="248.9" x2="248.9" y1="373.6" y2="420.0"/>
<line class="wh" x1="248.9" x2="248.9" y1="452.4" y2="489.4"/>
<rect class="bx" x="235.8" y="420.0" width="26.1" height="32.4" fill="#fff"/>
<line class="md" x1="235.8" x2="261.9" y1="433.4" y2="433.4"/>
<path class="mn" d="M246.9 428.4L248.9 426.4L250.9 428.4L248.9 430.4Z"/>
<line class="wh" x1="283.8" x2="283.8" y1="367.2" y2="400.4"/>
<line class="wh" x1="283.8" x2="283.8" y1="445.2" y2="492.6"/>
<rect class="bx" x="270.7" y="400.4" width="26.1" height="44.8" fill="#fff"/>
<line class="md" x1="270.7" x2="296.8" y1="430.0" y2="430.0"/>
<path class="mn" d="M281.8 426.2L283.8 424.2L285.8 426.2L283.8 428.2Z"/>
<line class="wh" x1="318.6" x2="318.6" y1="377.0" y2="406.8"/>
<line class="wh" x1="318.6" x2="318.6" y1="440.4" y2="486.0"/>
<rect class="bx" x="305.6" y="406.8" width="26.1" height="33.6" fill="#c3c3c5"/>
<line class="md" x1="305.6" x2="331.7" y1="423.2" y2="423.2"/>
<path class="mn" d="M316.6 427.2L318.6 425.2L320.6 427.2L318.6 429.2Z"/>
<rect class="pb" x="193.3" y="360.4" width="146.2" height="138.9"/>
<line class="tk" x1="190.5" x2="193.3" y1="476.0" y2="476.0"/>
<text class="yt" x="189.0" y="479.1">42</text>
<line class="tk" x1="190.5" x2="193.3" y1="443.0" y2="443.0"/>
<text class="yt" x="189.0" y="446.1">43</text>
<line class="tk" x1="190.5" x2="193.3" y1="410.0" y2="410.0"/>
<text class="yt" x="189.0" y="413.1">44</text>
<line class="tk" x1="190.5" x2="193.3" y1="377.0" y2="377.0"/>
<text class="yt" x="189.0" y="380.1">45</text>
<line class="tk" x1="214.1" x2="214.1" y1="499.3" y2="502.1"/>
<text class="xt" x="214.1" y="509.7">A</text>
<line class="tk" x1="248.9" x2="248.9" y1="499.3" y2="502.1"/>
<text class="xt" x="248.9" y="509.7">B</text>
<line class="tk" x1="283.8" x2="283.8" y1="499.3" y2="502.1"/>
<text class="xt" x="283.8" y="509.7">C</text>
<line class="tk" x1="318.6" x2="318.6" y1="499.3" y2="502.1"/>
<text class="xt" x="318.6" y="509.7">D</text>
</g>
<g>
<rect x="364.4" y="344.5" width="146.3" height="15.9" fill="#dcdcde" stroke="#585858" stroke-width=".95"/>
<text class="st" x="437.5" y="354.8">Prx. Superfund sites</text>
<rect x="364.4" y="360.4" width="146.3" height="138.9" fill="#fff"/>
<line class="gm" x1="364.4" x2="510.7" y1="483.1" y2="483.1"/>
<line class="gm" x1="364.4" x2="510.7" y1="452.6" y2="452.6"/>
<line class="gm" x1="364.4" x2="510.7" y1="422.0" y2="422.0"/>
<line class="gm" x1="364.4" x2="510.7" y1="391.5" y2="391.5"/>
<line class="gM" x1="364.4" x2="510.7" y1="498.4" y2="498.4"/>
<line class="gM" x1="364.4" x2="510.7" y1="467.9" y2="467.9"/>
<line class="gM" x1="364.4" x2="510.7" y1="437.3" y2="437.3"/>
<line class="gM" x1="364.4" x2="510.7" y1="406.8" y2="406.8"/>
<line class="gM" x1="364.4" x2="510.7" y1="376.2" y2="376.2"/>
<line class="gM" x1="385.4" x2="385.4" y1="360.4" y2="499.3"/>
<line class="gM" x1="420.4" x2="420.4" y1="360.4" y2="499.3"/>
<line class="gM" x1="455.3" x2="455.3" y1="360.4" y2="499.3"/>
<line class="gM" x1="490.2" x2="490.2" y1="360.4" y2="499.3"/>
<line class="wh" x1="385.4" x2="385.4" y1="469.4" y2="481.4"/>
<line class="wh" x1="385.4" x2="385.4" y1="490.8" y2="492.4"/>
<rect class="bx" x="372.3" y="481.4" width="26.1" height="9.4" fill="#fff"/>
<line class="md" x1="372.3" x2="398.4" y1="489.6" y2="489.6"/>
<path class="mn" d="M383.4 485.4L385.4 483.4L387.4 485.4L385.4 487.4Z"/>
<circle class="ol" cx="420.4" cy="382.2" r="1.85"/>
<circle class="ol" cx="420.4" cy="391.4" r="1.85"/>
<circle class="ol" cx="420.4" cy="408.2" r="1.85"/>
<circle class="ol" cx="420.4" cy="464.6" r="1.85"/>
<line class="wh" x1="420.4" x2="420.4" y1="472.4" y2="483.4"/>
<line class="wh" x1="420.4" x2="420.4" y1="490.8" y2="492.4"/>
<rect class="bx" x="407.3" y="483.4" width="26.1" height="7.4" fill="#fff"/>
<line class="md" x1="407.3" x2="433.4" y1="490.0" y2="490.0"/>
<path class="mn" d="M418.4 480.0L420.4 478.0L422.4 480.0L420.4 482.0Z"/>
<circle class="ol" cx="455.3" cy="391.4" r="1.85"/>
<circle class="ol" cx="455.3" cy="412.8" r="1.85"/>
<circle class="ol" cx="455.3" cy="457.2" r="1.85"/>
<circle class="ol" cx="455.3" cy="463.2" r="1.85"/>
<circle class="ol" cx="455.3" cy="472.6" r="1.85"/>
<circle class="ol" cx="455.3" cy="478.6" r="1.85"/>
<circle class="ol" cx="455.3" cy="480.0" r="1.85"/>
<line class="wh" x1="455.3" x2="455.3" y1="482.0" y2="487.2"/>
<line class="wh" x1="455.3" x2="455.3" y1="491.2" y2="492.4"/>
<rect class="bx" x="442.2" y="487.2" width="26.1" height="4.0" fill="#fff"/>
<line class="md" x1="442.2" x2="468.4" y1="490.4" y2="490.4"/>
<path class="mn" d="M453.3 487.0L455.3 485.0L457.3 487.0L455.3 489.0Z"/>
<circle class="ol" cx="490.2" cy="367.0" r="1.85"/>
<circle class="ol" cx="490.2" cy="425.0" r="1.85"/>
<circle class="ol" cx="490.2" cy="461.8" r="1.85"/>
<circle class="ol" cx="490.2" cy="467.8" r="1.85"/>
<circle class="ol" cx="490.2" cy="474.0" r="1.85"/>
<circle class="ol" cx="490.2" cy="483.0" r="1.85"/>
<line class="wh" x1="490.2" x2="490.2" y1="485.0" y2="488.2"/>
<line class="wh" x1="490.2" x2="490.2" y1="490.8" y2="492.4"/>
<rect class="bx" x="477.1" y="488.2" width="26.1" height="2.6" fill="#c3c3c5"/>
<line class="md" x1="477.1" x2="503.2" y1="489.6" y2="489.6"/>
<path class="mn" d="M488.2 485.6L490.2 483.6L492.2 485.6L490.2 487.6Z"/>
<rect class="pb" x="364.4" y="360.4" width="146.3" height="138.9"/>
<line class="tk" x1="361.6" x2="364.4" y1="498.4" y2="498.4"/>
<text class="yt" x="360.1" y="501.4">0.0</text>
<line class="tk" x1="361.6" x2="364.4" y1="467.9" y2="467.9"/>
<text class="yt" x="360.1" y="470.9">0.2</text>
<line class="tk" x1="361.6" x2="364.4" y1="437.3" y2="437.3"/>
<text class="yt" x="360.1" y="440.4">0.4</text>
<line class="tk" x1="361.6" x2="364.4" y1="406.8" y2="406.8"/>
<text class="yt" x="360.1" y="409.8">0.6</text>
<line class="tk" x1="361.6" x2="364.4" y1="376.2" y2="376.2"/>
<text class="yt" x="360.1" y="379.3">0.8</text>
<line class="tk" x1="385.4" x2="385.4" y1="499.3" y2="502.1"/>
<text class="xt" x="385.4" y="509.7">A</text>
<line class="tk" x1="420.4" x2="420.4" y1="499.3" y2="502.1"/>
<text class="xt" x="420.4" y="509.7">B</text>
<line class="tk" x1="455.3" x2="455.3" y1="499.3" y2="502.1"/>
<text class="xt" x="455.3" y="509.7">C</text>
<line class="tk" x1="490.2" x2="490.2" y1="499.3" y2="502.1"/>
<text class="xt" x="490.2" y="509.7">D</text>
</g>
<g>
<rect x="538.5" y="344.5" width="146.6" height="15.9" fill="#dcdcde" stroke="#585858" stroke-width=".95"/>
<text class="st" x="611.8" y="354.8">Prx. wastewater</text>
<rect x="538.5" y="360.4" width="146.6" height="138.9" fill="#fff"/>
<line class="gm" x1="538.5" x2="685.1" y1="476.1" y2="476.1"/>
<line class="gm" x1="538.5" x2="685.1" y1="443.1" y2="443.1"/>
<line class="gm" x1="538.5" x2="685.1" y1="410.1" y2="410.1"/>
<line class="gm" x1="538.5" x2="685.1" y1="377.1" y2="377.1"/>
<line class="gM" x1="538.5" x2="685.1" y1="492.6" y2="492.6"/>
<line class="gM" x1="538.5" x2="685.1" y1="459.6" y2="459.6"/>
<line class="gM" x1="538.5" x2="685.1" y1="426.6" y2="426.6"/>
<line class="gM" x1="538.5" x2="685.1" y1="393.6" y2="393.6"/>
<line class="gM" x1="559.4" x2="559.4" y1="360.4" y2="499.3"/>
<line class="gM" x1="594.3" x2="594.3" y1="360.4" y2="499.3"/>
<line class="gM" x1="629.2" x2="629.2" y1="360.4" y2="499.3"/>
<line class="gM" x1="664.1" x2="664.1" y1="360.4" y2="499.3"/>
<circle class="ol" cx="559.4" cy="492.6" r="1.85"/>
<rect class="bx" x="546.4" y="492.3" width="26.1" height="0.9" fill="#fff"/>
<line class="md" x1="546.4" x2="572.4" y1="492.8" y2="492.8"/>
<path class="mn" d="M557.4 492.8L559.4 490.8L561.4 492.8L559.4 494.8Z"/>
<circle class="ol" cx="594.3" cy="441.6" r="1.85"/>
<circle class="ol" cx="594.3" cy="482.6" r="1.85"/>
<circle class="ol" cx="594.3" cy="492.0" r="1.85"/>
<rect class="bx" x="581.2" y="492.3" width="26.1" height="0.9" fill="#fff"/>
<line class="md" x1="581.2" x2="607.3" y1="492.8" y2="492.8"/>
<path class="mn" d="M592.3 490.0L594.3 488.0L596.3 490.0L594.3 492.0Z"/>
<circle class="ol" cx="629.2" cy="445.0" r="1.85"/>
<circle class="ol" cx="629.2" cy="479.6" r="1.85"/>
<circle class="ol" cx="629.2" cy="491.6" r="1.85"/>
<rect class="bx" x="616.2" y="492.3" width="26.1" height="0.9" fill="#fff"/>
<line class="md" x1="616.2" x2="642.2" y1="492.8" y2="492.8"/>
<path class="mn" d="M627.2 492.0L629.2 490.0L631.2 492.0L629.2 494.0Z"/>
<circle class="ol" cx="664.1" cy="367.0" r="1.85"/>
<circle class="ol" cx="664.1" cy="471.6" r="1.85"/>
<circle class="ol" cx="664.1" cy="491.0" r="1.85"/>
<circle class="ol" cx="664.1" cy="492.5" r="1.85"/>
<rect class="bx" x="651.1" y="492.3" width="26.1" height="0.9" fill="#c3c3c5"/>
<line class="md" x1="651.1" x2="677.2" y1="492.8" y2="492.8"/>
<path class="mn" d="M662.1 488.6L664.1 486.6L666.1 488.6L664.1 490.6Z"/>
<rect class="pb" x="538.5" y="360.4" width="146.6" height="138.9"/>
<line class="tk" x1="535.7" x2="538.5" y1="492.6" y2="492.6"/>
<text class="yt" x="534.2" y="495.7">0</text>
<line class="tk" x1="535.7" x2="538.5" y1="459.6" y2="459.6"/>
<text class="yt" x="534.2" y="462.7">20</text>
<line class="tk" x1="535.7" x2="538.5" y1="426.6" y2="426.6"/>
<text class="yt" x="534.2" y="429.7">40</text>
<line class="tk" x1="535.7" x2="538.5" y1="393.6" y2="393.6"/>
<text class="yt" x="534.2" y="396.7">60</text>
<line class="tk" x1="559.4" x2="559.4" y1="499.3" y2="502.1"/>
<text class="xt" x="559.4" y="509.7">A</text>
<line class="tk" x1="594.3" x2="594.3" y1="499.3" y2="502.1"/>
<text class="xt" x="594.3" y="509.7">B</text>
<line class="tk" x1="629.2" x2="629.2" y1="499.3" y2="502.1"/>
<text class="xt" x="629.2" y="509.7">C</text>
<line class="tk" x1="664.1" x2="664.1" y1="499.3" y2="502.1"/>
<text class="xt" x="664.1" y="509.7">D</text>
</g>
<text class="at" x="356.9" y="521.5">HOLC Grade</text>
<text class="at" transform="translate(8.3 258.2) rotate(-90)">Concentration/level</text>
</svg></body></html>
